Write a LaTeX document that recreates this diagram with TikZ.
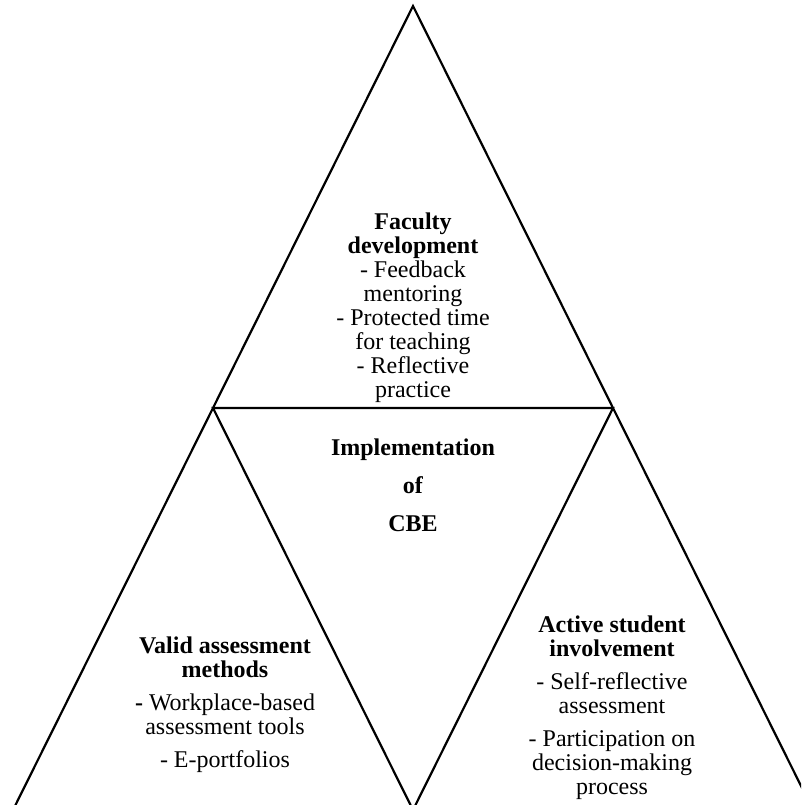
\documentclass[tikz,border=0pt]{standalone}
\usepackage{fontspec}
\setmainfont{Liberation Serif}
\usepackage{tikz}
\usetikzlibrary{calc}

\begin{document}
\begin{tikzpicture}[x=1pt, y=1pt]

    \tikzstyle{block}=[align=center, inner sep=0pt, font=\fontsize{24}{24}\selectfont];
    \tikzstyle{side}=[line width=2.2pt, line join=miter];

    \useasboundingbox (0, 0) rectangle (801, 805);
    \clip (0, 0) rectangle (801, 805);

    \coordinate (top) at (413, 799);
    \coordinate (ml) at ($(top)+(-200,-402)$);
    \coordinate (mr) at ($(top)+(200,-402)$);
    \coordinate (bm) at ($(ml)+(200,-402)$);
    \coordinate (bl) at ($(ml)+(-200,-402)$);
    \coordinate (br) at ($(mr)+(200,-402)$);

    \draw[side] (top) -- (bl) -- (br) -- cycle;
    \draw[side] (ml) -- (mr) -- (bm) -- cycle;

    \node[block] (faculty) at (413, 497) {\textbf{Faculty}\\ \textbf{development}\\ - Feedback\\ mentoring\\ - Protected time\\ for teaching\\ - Reflective\\ practice};

    \node[block] (cbe) at (413, 320) {\textbf{Implementation}\\[14pt] \textbf{of}\\[14pt] \textbf{CBE}};

    \node[block] (valid) at (225, 100) {\textbf{Valid assessment}\\ \textbf{methods}\\[9pt] \textbf{-} Workplace-based\\ assessment tools\\[9pt] - E-portfolios};

    \node[block] (active) at (612, 97) {\textbf{Active student}\\ \textbf{involvement}\\[9pt] - Self-reflective\\ assessment\\[9pt] - Participation on\\ decision-making\\ process};

\end{tikzpicture}
\end{document}
